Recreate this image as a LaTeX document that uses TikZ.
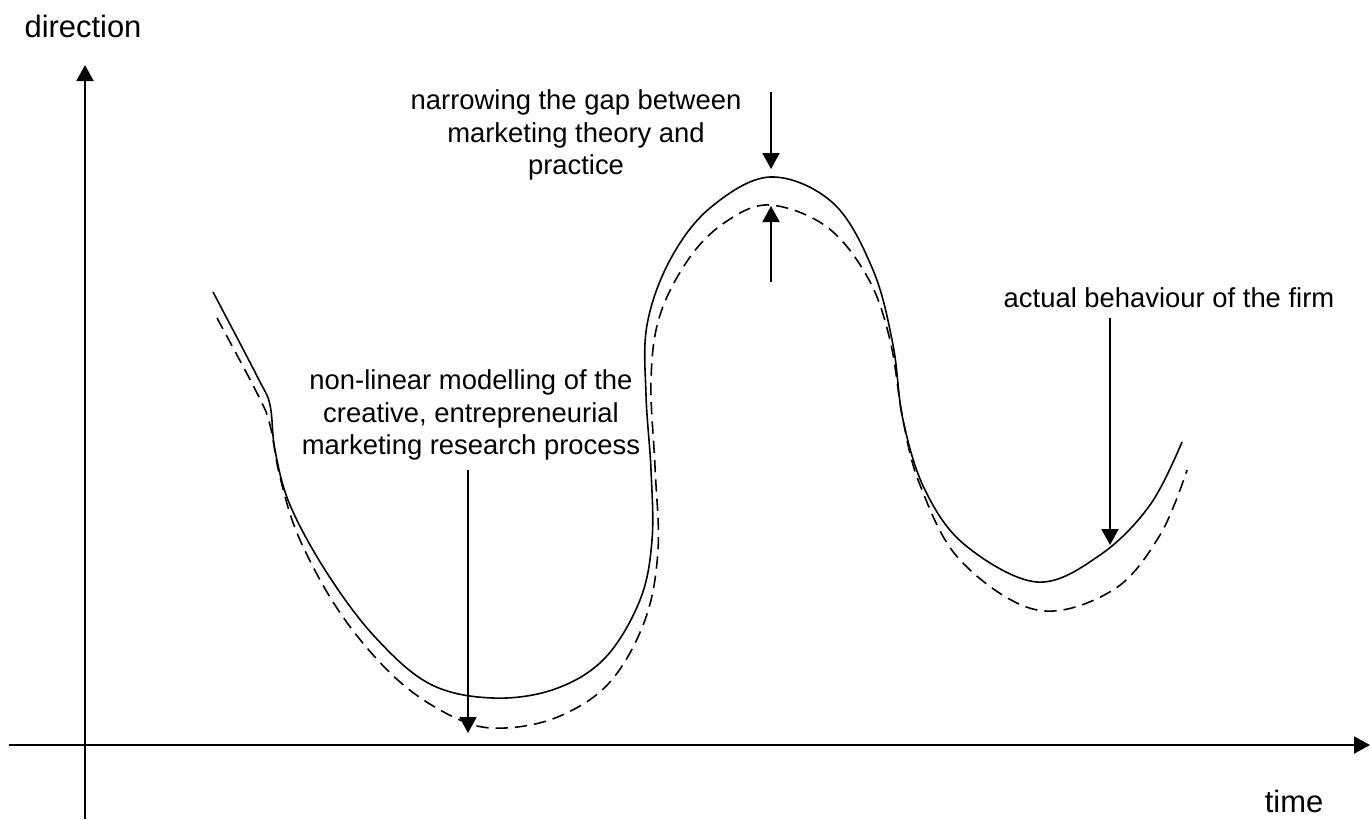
\documentclass[tikz,border=0pt]{standalone}
\usepackage{fontspec}
\setmainfont{Liberation Sans}
\usetikzlibrary{arrows.meta}
\tikzset{
    axis/.style={-{Triangle[length=0.32cm, width=0.34cm]}, line width=1.1pt},
    pointer/.style={-{Triangle[length=0.32cm, width=0.34cm]}, line width=1.1pt},
    firmline/.style={line width=0.9pt},
    modelline/.style={line width=0.9pt, dash pattern=on 7pt off 4pt},
    label/.style={inner sep=0pt, align=center, font=\fontsize{15.6}{18.6}\selectfont},
    axislabel/.style={inner sep=0pt, anchor=base, font=\fontsize{17.6}{21}\selectfont},
}

\begin{document}
\begin{tikzpicture}[x=0.02cm, y=-0.02cm]
    \useasboundingbox (0,0) rectangle (1371,819);

    % axes
    \coordinate (yfoot) at (85,819);
    \coordinate (ytip) at (85,65);
    \coordinate (xfoot) at (9,745);
    \coordinate (xtip) at (1370,745);
    \draw[axis] (yfoot) -- (ytip);
    \draw[axis] (xfoot) -- (xtip);
    \node[axislabel] (ylabel) at (83,37) {direction};
    \node[axislabel] (xlabel) at (1294,812) {time};

    % actual behaviour of the firm
    \draw[firmline] plot[smooth, tension=0.6] coordinates {
        (213,292) (258,378) (270,405) (275,450) (290,505) (327,573) (375,637)
        (430,684) (493,698) (555,689) (605,658) (640,600) (652,540) (651,470)
        (646,395) (647,325) (670,260) (710,208) (770,177) (833,203) (873,270)
        (893,345) (903,420) (925,490) (965,545) (1037,582) (1100,555)
        (1150,505) (1182,442)};

    % modelled process
    \draw[modelline] plot[smooth, tension=0.6] coordinates {
        (217,318) (258,395) (270,425) (280,477) (300,540) (343,617) (400,682)
        (460,720) (505,728) (560,716) (610,682) (645,620) (658,550) (655,467)
        (651,380) (660,315) (690,257) (727,221) (770,205) (827,227) (868,278)
        (890,340) (903,420) (920,485) (960,560) (1037,610) (1113,590)
        (1160,535) (1187,470)};

    % labels
    \node[label] (gap) at (576,135) {narrowing the gap between\\marketing theory and\\practice};
    \node[label] (model) at (471,415) {non-linear modelling of the\\creative, entrepreneurial\\marketing research process};
    \node[label, anchor=base] (firm) at (1169,307) {actual behaviour of the firm};

    % pointers
    \coordinate (gapfrom) at (771,92);
    \coordinate (gapto) at (771,169);
    \coordinate (risefrom) at (771,282);
    \coordinate (riseto) at (771,206);
    \coordinate (modelfrom) at (468,470);
    \coordinate (modelto) at (468,733);
    \coordinate (firmfrom) at (1110,318);
    \coordinate (firmto) at (1110,545);
    \draw[pointer] (gapfrom) -- (gapto);
    \draw[pointer] (risefrom) -- (riseto);
    \draw[pointer] (modelfrom) -- (modelto);
    \draw[pointer] (firmfrom) -- (firmto);
\end{tikzpicture}
\end{document}
